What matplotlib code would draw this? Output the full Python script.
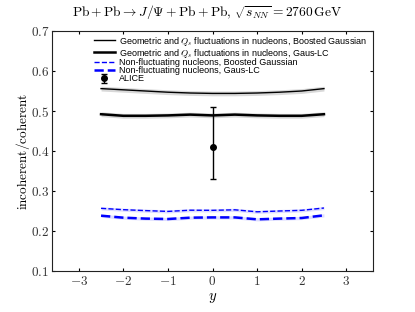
import numpy as np
import matplotlib
matplotlib.use("Agg")
import matplotlib.pyplot as plt
from matplotlib.ticker import FuncFormatter

plt.rcParams['mathtext.fontset'] = 'cm'
plt.rcParams['font.family'] = ['Liberation Sans', 'DejaVu Sans']

# rapidity grid
y = [-2.5, -2.0, -1.5, -1.0, -0.5, 0.0, 0.5, 1.0, 1.5, 2.0, 2.5]

# fluctuating nucleons
geo_bg = [0.556, 0.553, 0.550, 0.547, 0.545, 0.544, 0.544, 0.545, 0.547, 0.550, 0.556]
geo_bg_err = [0.006] * 11
geo_lc = [0.492, 0.488, 0.488, 0.489, 0.491, 0.489, 0.491, 0.489, 0.488, 0.488, 0.492]
geo_lc_err = [0.006] * 11

# non-fluctuating nucleons
nf_bg = [0.2567, 0.2533, 0.251, 0.249, 0.252, 0.2517, 0.253, 0.248, 0.250, 0.2517, 0.2575]
nf_bg_err = [0.004] * 11
nf_lc = [0.2383, 0.2333, 0.231, 0.230, 0.2333, 0.234, 0.234, 0.2292, 0.231, 0.2325, 0.2392]
nf_lc_err = [0.004] * 11

# ALICE data point
alice_y = [0.0]
alice_val = [0.41]
alice_lo = [0.08]
alice_hi = [0.10]

fig = plt.figure(figsize=(4.15, 3.12), dpi=100)
ax = fig.add_axes([0.1253, 0.1314, 0.7735, 0.7692])

def band(vals, errs, color, alpha):
    v = np.array(vals)
    e = np.array(errs)
    ax.fill_between(y, v - e, v + e, color=color, alpha=alpha, lw=0)

band(geo_bg, geo_bg_err, 'gray', 0.3)
band(geo_lc, geo_lc_err, 'gray', 0.3)
band(nf_bg, nf_bg_err, 'blue', 0.13)
band(nf_lc, nf_lc_err, 'blue', 0.13)

ax.plot(y, geo_bg, color='black', lw=1.0,
        label=r'Geometric and $Q_s$ fluctuations in nucleons, Boosted Gaussian')
ax.plot(y, geo_lc, color='black', lw=1.8,
        label=r'Geometric and $Q_s$ fluctuations in nucleons, Gaus-LC')
ax.plot(y, nf_bg, color='blue', lw=1.0, ls='--',
        label='Non-fluctuating nucleons, Boosted Gaussian')
ax.plot(y, nf_lc, color='blue', lw=1.8, ls='--',
        label='Non-fluctuating nucleons, Gaus-LC')
ax.errorbar(alice_y, alice_val, yerr=[alice_lo, alice_hi], fmt='o', color='black',
            ms=4, capsize=2, elinewidth=1, label='ALICE')

ax.set_xlim(-3.6, 3.6)
ax.set_ylim(0.1, 0.7)
ax.set_xticks([-3, -2, -1, 0, 1, 2, 3])
ax.set_yticks([0.1, 0.2, 0.3, 0.4, 0.5, 0.6, 0.7])
ax.xaxis.set_major_formatter(FuncFormatter(lambda v, p: r'$%d$' % v))
ax.yaxis.set_major_formatter(FuncFormatter(lambda v, p: r'$%.1f$' % v))
ax.tick_params(direction='in', top=True, right=True, length=2.5, labelsize=9.5,
               labelcolor='#333333')
ax.tick_params(axis='y', pad=2)
ax.tick_params(axis='x', pad=3)
for s in ax.spines.values():
    s.set_color('#222222')

ax.set_xlabel(r'$y$', fontsize=10.5, labelpad=2)
ax.set_ylabel(r'$\mathrm{incoherent/coherent}$', fontsize=9.5, labelpad=-1)
fig.text(0.5, 0.962,
         r'$\mathrm{Pb} + \mathrm{Pb} \rightarrow J/\Psi + \mathrm{Pb} + \mathrm{Pb},\, \sqrt{s_{NN}} = 2760\,\mathrm{GeV}$',
         fontsize=9.7, ha='center', va='center')

ax.legend(loc='upper left', bbox_to_anchor=(0.131, 0.985), frameon=False, fontsize=6.5,
          handlelength=2.3, labelspacing=-0.12, handletextpad=0.45, borderpad=0.0,
          borderaxespad=0.0)

fig.savefig('out.png', dpi=100)
